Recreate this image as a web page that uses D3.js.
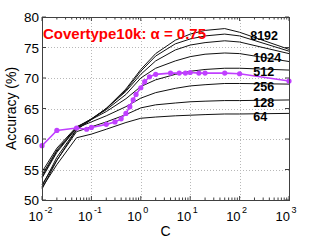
<!DOCTYPE html>
<meta charset="utf-8">
<style>
    body { margin: 0; background: #fff; }
    svg { font-family: "Liberation Sans", Arial, sans-serif; }
    .grid line { stroke: #b8b8b8; stroke-dasharray: 1,2; shape-rendering: crispEdges; }
</style>
<body>
<script src="https://cdn.jsdelivr.net/npm/d3@7"></script>
<script>

    // C values where the black curves were sampled
    const cValues = [0.01, 0.02, 0.05, 0.1, 0.2, 0.5, 1, 2, 5, 10, 20, 50, 100, 1000];

    // one accuracy series per number of bins
    const acc8192 = [51.8, 56.5, 61.5, 63.2, 65.0, 68.2, 71.4, 74.0, 76.2, 77.2, 77.8, 78.1, 77.5, 74.7];
    const acc4096 = [52.2, 57.0, 61.6, 63.2, 65.0, 68.0, 71.1, 73.6, 75.6, 76.4, 76.9, 77.2, 76.9, 74.4];
    const acc2048 = [53.6, 57.8, 61.8, 63.3, 65.0, 67.8, 70.6, 72.8, 74.6, 75.4, 75.8, 76.1, 75.9, 74.0];
    const acc1024 = [54.1, 58.2, 61.9, 63.3, 64.8, 67.3, 70.0, 71.6, 72.8, 73.5, 73.9, 74.1, 74.0, 72.7];
    const acc512  = [54.6, 58.5, 62.0, 63.2, 64.5, 66.6, 68.6, 69.7, 70.6, 71.1, 71.4, 71.6, 71.6, 71.3];
    const acc256  = [53.8, 58.0, 61.8, 62.8, 63.8, 65.3, 66.7, 67.6, 68.3, 68.7, 68.9, 69.1, 69.1, 69.0];
    const acc128  = [52.5, 56.5, 61.2, 62.0, 62.8, 64.0, 65.1, 65.6, 65.9, 66.1, 66.2, 66.3, 66.3, 66.4];
    const acc64   = [52.0, 55.8, 60.2, 60.8, 61.6, 62.7, 63.4, 63.6, 63.8, 63.9, 64.0, 64.1, 64.1, 64.2];

    const blackSeries = [acc8192, acc4096, acc2048, acc1024, acc512, acc256, acc128, acc64];

    // the purple (alpha = 0.75) series
    const pinkC   = [0.01, 0.02, 0.05, 0.08, 0.1, 0.2, 0.3, 0.4, 0.5, 0.6, 0.7, 0.8, 1, 1.2, 1.5, 2, 4, 6, 8, 10, 15, 20, 50, 100, 1000];
    const pinkAcc = [58.9, 61.4, 61.8, 61.6, 61.9, 62.4, 62.8, 63.3, 64.2, 65.3, 66.4, 67.3, 68.4, 69.4, 70.2, 70.6, 70.8, 70.8, 70.8, 70.9, 70.8, 70.8, 70.8, 70.7, 69.5];

    // curve labels (text, accuracy of baseline)
    const labelText = ["8192", "1024", "512", "256", "128", "64"];
    const labelAcc  = [76.15, 72.7, 70.4, 67.8, 65.3, 63.0];

    const yTicks = [50, 55, 60, 65, 70, 75, 80];
    const xTicks = [0.01, 0.1, 1, 10, 100, 1000];
    const xExp   = ["-2", "-1", "0", "1", "2", "3"];

    const margin = {top: 17, right: 30, bottom: 40, left: 42};
    const width = 319, height = 240;
    const w = width - margin.left - margin.right;
    const h = height - margin.top - margin.bottom;

    const svg = d3.select("body").append("svg")
        .attr("width", width)
        .attr("height", height);

    const g = svg.append("g")
        .attr("transform", "translate(" + margin.left + "," + margin.top + ")");

    const x = d3.scaleLog().domain([0.01, 1000]).range([0, w]);
    const y = d3.scaleLinear().domain([50, 80]).range([h, 0]);

    // dotted grid
    const grid = g.append("g").attr("class", "grid");
    grid.selectAll(".gx").data(xTicks.slice(1, -1)).enter().append("line")
        .attr("x1", d => Math.round(x(d)) + 0.5).attr("x2", d => Math.round(x(d)) + 0.5)
        .attr("y1", 0).attr("y2", h);
    grid.selectAll(".gy").data(yTicks.slice(1, -1)).enter().append("line")
        .attr("x1", 0).attr("x2", w)
        .attr("y1", d => Math.round(y(d)) + 0.5).attr("y2", d => Math.round(y(d)) + 0.5);

    // minor ticks on log axis
    const minor = [];
    for (let e = -2; e < 3; e++) for (let k = 2; k < 10; k++) minor.push(k * Math.pow(10, e));

    const axisColor = "#404040";
    const ticksG = g.append("g").attr("stroke", axisColor).attr("stroke-width", 1);
    ticksG.selectAll(".mb").data(minor).enter().append("line")
        .attr("x1", d => x(d)).attr("x2", d => x(d)).attr("y1", h).attr("y2", h - 2.5);
    ticksG.selectAll(".mt").data(minor).enter().append("line")
        .attr("x1", d => x(d)).attr("x2", d => x(d)).attr("y1", 0).attr("y2", 2.5);
    ticksG.selectAll(".Mb").data(xTicks).enter().append("line")
        .attr("x1", d => x(d)).attr("x2", d => x(d)).attr("y1", h).attr("y2", h - 4);
    ticksG.selectAll(".Mt").data(xTicks).enter().append("line")
        .attr("x1", d => x(d)).attr("x2", d => x(d)).attr("y1", 0).attr("y2", 4);
    ticksG.selectAll(".yl").data(yTicks).enter().append("line")
        .attr("x1", 0).attr("x2", 4).attr("y1", d => y(d)).attr("y2", d => y(d));
    ticksG.selectAll(".yr").data(yTicks).enter().append("line")
        .attr("x1", w).attr("x2", w - 4).attr("y1", d => y(d)).attr("y2", d => y(d));

    // black curves
    const line = d3.line()
        .x(d => x(d[0]))
        .y(d => y(d[1]));

    g.append("g").selectAll("path")
        .data(blackSeries)
        .enter().append("path")
        .attr("d", s => line(s.map((v, i) => [cValues[i], v])))
        .attr("fill", "none")
        .attr("stroke", "#111")
        .attr("stroke-width", 1);

    // purple curve
    const pinkColor = "#c040ff";
    const pinkData = pinkC.map((c, i) => [c, pinkAcc[i]]);
    g.append("path")
        .attr("d", line(pinkData))
        .attr("fill", "none")
        .attr("stroke", pinkColor)
        .attr("stroke-width", 1.6);
    g.append("g").selectAll("circle")
        .data(pinkData)
        .enter().append("circle")
        .attr("cx", d => x(d[0]))
        .attr("cy", d => y(d[1]))
        .attr("r", 2.6)
        .attr("fill", pinkColor);

    // frame
    g.append("rect")
        .attr("x", 0.5).attr("y", 0.5)
        .attr("width", w).attr("height", h)
        .attr("fill", "none")
        .attr("stroke", axisColor);

    // curve labels
    g.append("g").selectAll("text")
        .data(labelText)
        .enter().append("text")
        .attr("x", (d, i) => i === 0 ? x(180) - 2 : x(190))
        .attr("y", (d, i) => y(labelAcc[i]))
        .attr("font-size", "12.5px")
        .attr("font-weight", "bold")
        .attr("fill", "#000")
        .text(d => d);

    // title
    g.append("text")
        .attr("x", 1)
        .attr("y", 21.5)
        .attr("font-size", "15px")
        .attr("font-weight", "bold")
        .attr("fill", "#ff0000")
        .text("Covertype10k: α = 0.75");

    // y tick labels
    g.append("g").selectAll("text")
        .data(yTicks)
        .enter().append("text")
        .attr("x", -3)
        .attr("y", d => y(d) + 5)
        .attr("text-anchor", "end")
        .attr("font-size", "13.5px")
        .text(d => d);

    // x tick labels: 10 with superscript
    const xl = g.append("g").selectAll("g")
        .data(xTicks)
        .enter().append("g")
        .attr("transform", d => "translate(" + x(d) + "," + (h + 20.5) + ")");
    xl.append("text")
        .attr("x", 1)
        .attr("text-anchor", "end")
        .attr("font-size", "13px")
        .text("10");
    xl.append("text")
        .attr("x", 2.5)
        .attr("y", -8)
        .attr("font-size", "9px")
        .text((d, i) => xExp[i]);

    // axis titles
    g.append("text")
        .attr("x", w / 2)
        .attr("y", h + 36)
        .attr("text-anchor", "middle")
        .attr("font-size", "14px")
        .text("C");

    svg.append("text")
        .attr("transform", "translate(16," + (margin.top + h / 2) + ") rotate(-90)")
        .attr("text-anchor", "middle")
        .attr("font-size", "14px")
        .text("Accuracy (%)");

</script>
</body>
